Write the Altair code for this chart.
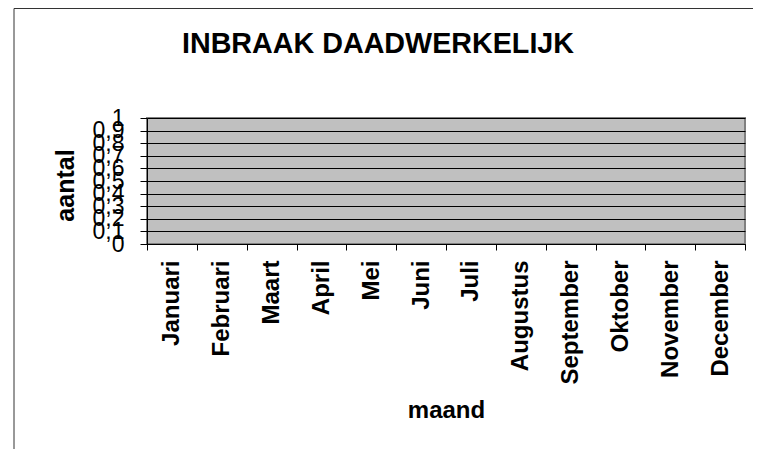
import altair as alt
import pandas as pd

months = ["Januari", "Februari", "Maart", "April", "Mei", "Juni", "Juli",
          "Augustus", "September", "Oktober", "November", "December"]
values = [0, 0, 0, 0, 0, 0, 0, 0, 0, 0, 0, 0]
y_ticks = [0, 0.1, 0.2, 0.3, 0.4, 0.5, 0.6, 0.7, 0.8, 0.9, 1]

FONT = "Liberation Sans"

df = pd.DataFrame({"maand": months, "aantal": values})

bars = alt.Chart(df).mark_bar(color="#9999FF").encode(
    x=alt.X("maand:N", sort=months,
            scale=alt.Scale(paddingInner=0, paddingOuter=0),
            axis=alt.Axis(title="maand", labelAngle=270, labelAlign="right",
                          labelBaseline="middle", labelFontSize=24,
                          labelFontWeight="bold", labelFont=FONT,
                          labelPadding=10, tickSize=6, tickBand="extent",
                          labelOverlap=False, labelColor="black",
                          domainColor="black", tickColor="black",
                          titleFont=FONT, titleFontSize=24, titleFontWeight="bold",
                          titleX=299, titleY=173, titleBaseline="alphabetic",
                          titleAlign="center", titleColor="black", grid=False)),
    y=alt.Y("aantal:Q", scale=alt.Scale(domain=[0, 1], nice=False),
            axis=alt.Axis(title="aantal", values=y_ticks,
                          labelExpr="replace(format(datum.value, '.1~f'), '.', ',')",
                          labelFontSize=23, labelFont=FONT, labelPadding=16,
                          labelAlign="right", labelBaseline="middle",
                          labelOverlap=False, labelFlush=False, labelBound=False,
                          labelColor="black", tickSize=7, tickColor="black",
                          domainColor="black", grid=True, gridColor="black",
                          gridWidth=1, gridOpacity=1,
                          titleFont=FONT, titleFontSize=25, titleFontWeight="bold",
                          titleAngle=270, titleX=-74, titleY=67,
                          titleBaseline="alphabetic", titleAlign="center",
                          titleColor="black")),
)

frame = pd.DataFrame({"k": [0]})
left_border = alt.Chart(frame).mark_rule(color="#333333", strokeWidth=1).encode(
    x=alt.value(-133), y=alt.value(-109.5), y2=alt.value(340))
top_border = alt.Chart(frame).mark_rule(color="#333333", strokeWidth=1).encode(
    x=alt.value(-133), x2=alt.value(620), y=alt.value(-109.5))

chart = alt.layer(bars, left_border, top_border).properties(
    width=598, height=126,
    title=alt.TitleParams("INBRAAK DAADWERKELIJK", font=FONT, fontSize=28.7,
                          fontWeight="bold", anchor="middle", dx=-68,
                          offset=0, dy=74, baseline="alphabetic", color="black"),
    autosize=alt.AutoSizeParams(type="none"),
    padding={"left": 139, "top": 110, "right": 8, "bottom": 205},
    background="white",
).configure_view(fill="#C0C0C0", stroke="#808080", strokeWidth=2)

chart.save("out.html", embed_options={"renderer": "svg", "actions": False})
